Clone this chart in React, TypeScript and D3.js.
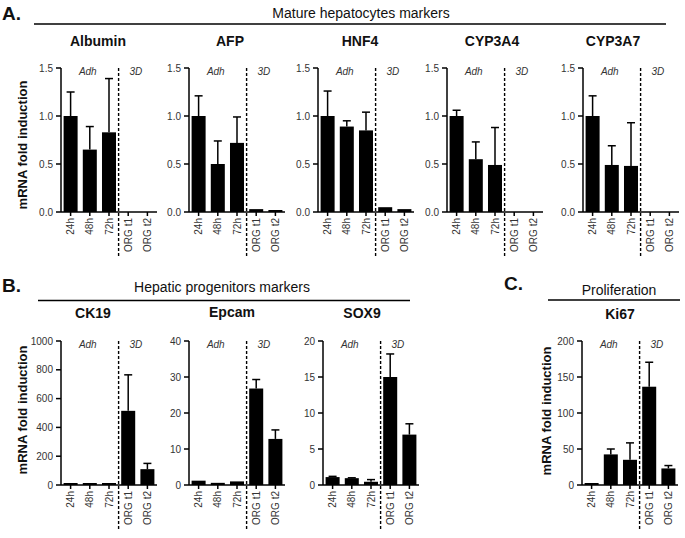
import React from "react";
import * as d3 from "d3";

const categories = ["24h", "48h", "72h", "ORG t1", "ORG t2"];

const albuminMean = [1.0, 0.65, 0.83, 0, 0];
const albuminSd = [0.25, 0.24, 0.56, 0, 0];
const afpMean = [1.0, 0.5, 0.72, 0.03, 0.02];
const afpSd = [0.21, 0.24, 0.27, 0, 0];
const hnf4Mean = [1.0, 0.89, 0.85, 0.05, 0.03];
const hnf4Sd = [0.26, 0.06, 0.19, 0, 0];
const cyp3a4Mean = [1.0, 0.55, 0.49, 0, 0];
const cyp3a4Sd = [0.06, 0.18, 0.39, 0, 0];
const cyp3a7Mean = [1.0, 0.49, 0.48, 0, 0];
const cyp3a7Sd = [0.21, 0.2, 0.45, 0, 0];

const ck19Mean = [4, 1, 4, 515, 110];
const ck19Sd = [0, 0, 0, 250, 40];
const epcamMean = [1.2, 0.6, 1.0, 26.8, 12.8];
const epcamSd = [0, 0, 0, 2.5, 2.5];
const sox9Mean = [1.1, 0.95, 0.45, 15.0, 7.0];
const sox9Sd = [0.1, 0.05, 0.3, 3.2, 1.5];
const ki67Mean = [2, 42.5, 35, 136.5, 23];
const ki67Sd = [0, 7.5, 23.5, 34, 4];

const topTicks = [0, 0.5, 1.0, 1.5];
const ck19Ticks = [0, 200, 400, 600, 800, 1000];
const epcamTicks = [0, 10, 20, 30, 40];
const sox9Ticks = [0, 5, 10, 15, 20];
const ki67Ticks = [0, 50, 100, 150, 200];

const groupLabels = ["Adh", "3D"];

const FONT = "'Liberation Sans', Arial, sans-serif";

type PanelProps = {
  title: string;
  mean: number[];
  sd: number[];
  ticks: number[];
  fmt: (v: number) => string;
  x0: number;
  yTop: number;
  yBottom: number;
  titleX: number;
  titleY: number;
};

function Panel({ title, mean, sd, ticks, fmt, x0, yTop, yBottom, titleX, titleY }: PanelProps) {
  const width = 96;
  const x = d3
    .scaleBand<string>()
    .domain(categories)
    .range([x0, x0 + width])
    .paddingInner(0.27)
    .paddingOuter(0.135);
  const y = d3
    .scaleLinear()
    .domain([0, ticks[ticks.length - 1]])
    .range([yBottom, yTop]);
  const bw = x.bandwidth();
  const step = x.step();
  const cx = (c: string) => (x(c) as number) + bw / 2;
  const dashX = cx(categories[2]) + step / 2;
  const adhX = (cx(categories[0]) + cx(categories[2])) / 2 - 2;
  const d3X = (cx(categories[3]) + cx(categories[4])) / 2 - 2;
  return (
    <g>
      <text x={titleX} y={titleY} textAnchor="middle" fontFamily={FONT} fontWeight="bold" fontSize={14} fill="#111">
        {title}
      </text>
      {categories.map((c, i) => {
        const top = y(mean[i]);
        const h = yBottom - top;
        return (
          <g key={c}>
            {h > 0 && (
              <rect x={x(c)} y={Math.min(top, yBottom - 2)} width={bw} height={Math.max(h, 2)} fill="#000" />
            )}
            {sd[i] > 0 && (
              <g stroke="#000" strokeWidth={1.5}>
                <line x1={cx(c)} x2={cx(c)} y1={top} y2={y(mean[i] + sd[i])} />
                <line x1={cx(c) - 4} x2={cx(c) + 4} y1={y(mean[i] + sd[i])} y2={y(mean[i] + sd[i])} />
              </g>
            )}
          </g>
        );
      })}
      <line x1={x0} x2={x0} y1={yTop} y2={yBottom} stroke="#000" strokeWidth={1.5} />
      {ticks.map((t) => (
        <g key={t}>
          <line x1={x0 - 5} x2={x0} y1={y(t)} y2={y(t)} stroke="#000" strokeWidth={1.5} />
          <text x={x0 - 8} y={y(t) + 3.5} textAnchor="end" fontFamily={FONT} fontSize={10} fill="#333">
            {fmt(t)}
          </text>
        </g>
      ))}
      <line x1={x0} x2={x0 + width} y1={yBottom} y2={yBottom} stroke="#000" strokeWidth={1.5} />
      {categories.map((c) => (
        <g key={c}>
          <line x1={cx(c)} x2={cx(c)} y1={yBottom} y2={yBottom + 4} stroke="#000" strokeWidth={1.5} />
          <text
            transform={`translate(${cx(c) + 3.5},${yBottom + 6}) rotate(-90)`}
            textAnchor="end"
            fontFamily={FONT}
            fontSize={10}
            fill="#333"
          >
            {c}
          </text>
        </g>
      ))}
      <line x1={dashX} x2={dashX} y1={yTop} y2={yBottom + 44} stroke="#000" strokeWidth={1.4} strokeDasharray="3,2" />
      <text x={adhX} y={yTop + 7} textAnchor="middle" fontFamily={FONT} fontStyle="italic" fontSize={10} fill="#333">
        {groupLabels[0]}
      </text>
      <text x={d3X} y={yTop + 7} textAnchor="middle" fontFamily={FONT} fontStyle="italic" fontSize={10} fill="#333">
        {groupLabels[1]}
      </text>
    </g>
  );
}

const f1 = (v: number) => d3.format(".1f")(v);
const f0 = (v: number) => d3.format("d")(v);

export default function App() {
  const topTop = 68;
  const topBottom = 212;
  const botTop = 341;
  const botBottom = 485;
  return (
    <svg width={685} height={538} style={{ position: "absolute", left: 0, top: 0, background: "#fff" }}>
      <rect width={685} height={538} fill="#fff" />
      <text x={2} y={20} fontFamily={FONT} fontWeight="bold" fontSize={19} fill="#111">A.</text>
      <text x={361} y={18} textAnchor="middle" fontFamily={FONT} fontSize={14} fill="#111">Mature hepatocytes markers</text>
      <line x1={34} x2={666} y1={24} y2={24} stroke="#000" strokeWidth={1.3} />

      <text x={2} y={292} fontFamily={FONT} fontWeight="bold" fontSize={19} fill="#111">B.</text>
      <text x={222} y={292} textAnchor="middle" fontFamily={FONT} fontSize={14} fill="#111">Hepatic progenitors markers</text>
      <line x1={38} x2={410} y1={300.5} y2={300.5} stroke="#000" strokeWidth={1.3} />

      <text x={504} y={290} fontFamily={FONT} fontWeight="bold" fontSize={19} fill="#111">C.</text>
      <text x={619} y={295} textAnchor="middle" fontFamily={FONT} fontSize={14} fill="#111">Proliferation</text>
      <line x1={548} x2={680} y1={300} y2={300} stroke="#000" strokeWidth={1.3} />

      <text transform={`translate(27,145) rotate(-90)`} textAnchor="middle" fontFamily={FONT} fontWeight="bold" fontSize={13} fill="#111">mRNA fold induction</text>
      <text transform={`translate(27,410) rotate(-90)`} textAnchor="middle" fontFamily={FONT} fontWeight="bold" fontSize={13} fill="#111">mRNA fold induction</text>
      <text transform={`translate(551,411) rotate(-90)`} textAnchor="middle" fontFamily={FONT} fontWeight="bold" fontSize={13} fill="#111">mRNA fold induction</text>

      <Panel title="Albumin" mean={albuminMean} sd={albuminSd} ticks={topTicks} fmt={f1} x0={61} yTop={topTop} yBottom={topBottom} titleX={98} titleY={46} />
      <Panel title="AFP" mean={afpMean} sd={afpSd} ticks={topTicks} fmt={f1} x0={189} yTop={topTop} yBottom={topBottom} titleX={230} titleY={46} />
      <Panel title="HNF4" mean={hnf4Mean} sd={hnf4Sd} ticks={topTicks} fmt={f1} x0={318} yTop={topTop} yBottom={topBottom} titleX={360} titleY={46} />
      <Panel title="CYP3A4" mean={cyp3a4Mean} sd={cyp3a4Sd} ticks={topTicks} fmt={f1} x0={447} yTop={topTop} yBottom={topBottom} titleX={492} titleY={46} />
      <Panel title="CYP3A7" mean={cyp3a7Mean} sd={cyp3a7Sd} ticks={topTicks} fmt={f1} x0={583} yTop={topTop} yBottom={topBottom} titleX={613} titleY={46} />

      <Panel title="CK19" mean={ck19Mean} sd={ck19Sd} ticks={ck19Ticks} fmt={f0} x0={61} yTop={botTop} yBottom={botBottom} titleX={93} titleY={318} />
      <Panel title="Epcam" mean={epcamMean} sd={epcamSd} ticks={epcamTicks} fmt={f0} x0={189} yTop={botTop} yBottom={botBottom} titleX={232} titleY={317} />
      <Panel title="SOX9" mean={sox9Mean} sd={sox9Sd} ticks={sox9Ticks} fmt={f0} x0={323} yTop={botTop} yBottom={botBottom} titleX={362} titleY={318} />
      <Panel title="Ki67" mean={ki67Mean} sd={ki67Sd} ticks={ki67Ticks} fmt={f0} x0={582} yTop={botTop} yBottom={botBottom} titleX={620} titleY={319} />
    </svg>
  );
}
